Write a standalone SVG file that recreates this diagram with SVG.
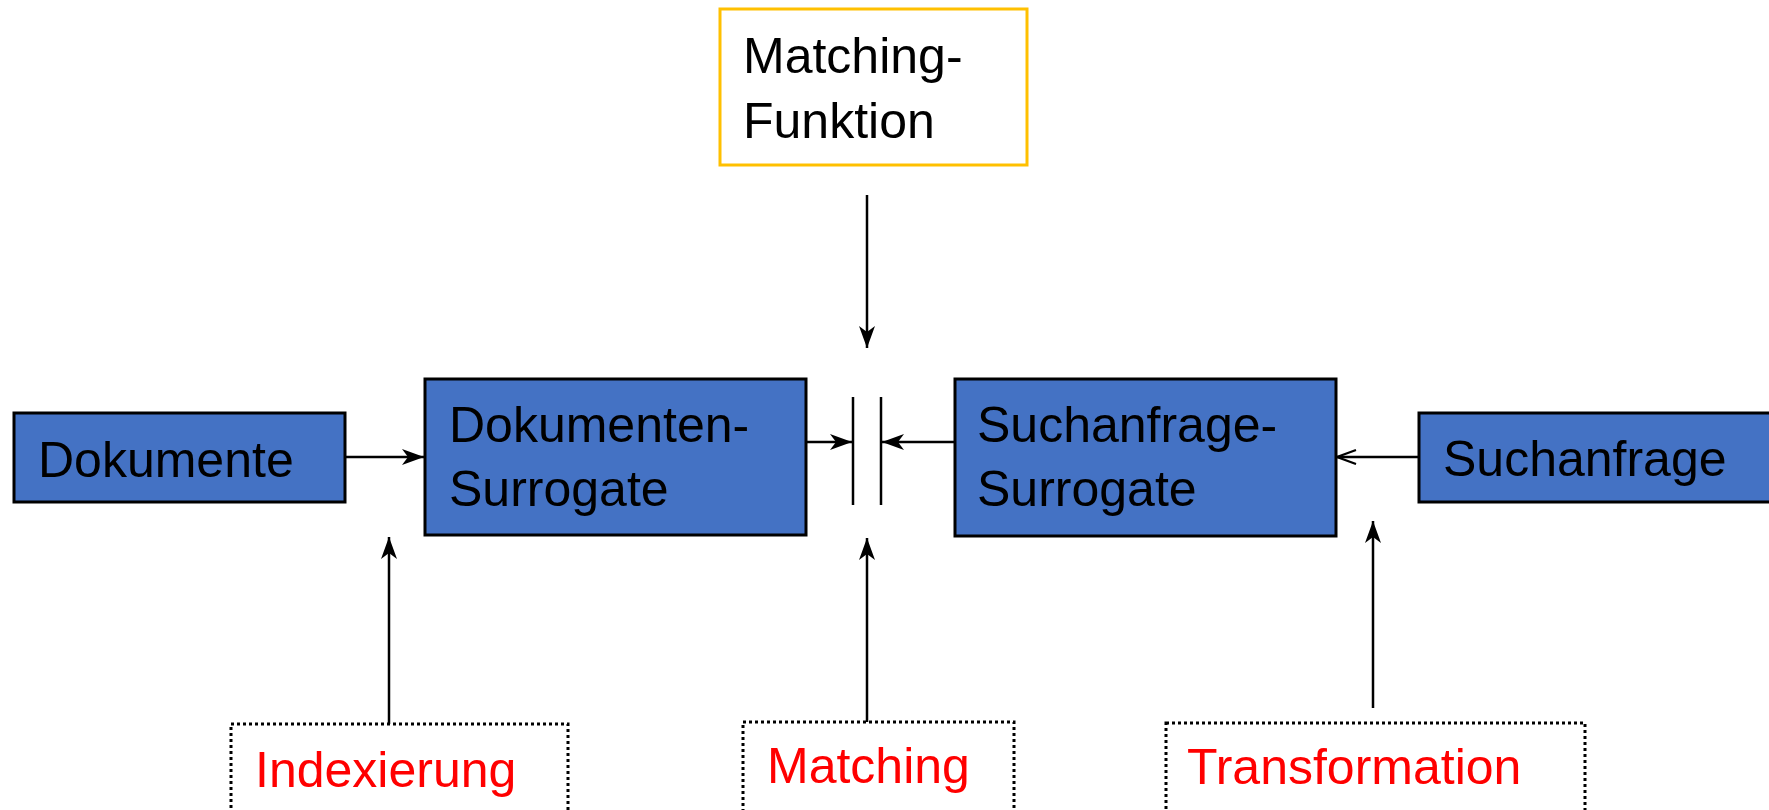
<svg xmlns="http://www.w3.org/2000/svg" width="1769" height="810" viewBox="0 0 1769 810">
<style>
.blue{fill:#4472C4;stroke:#000;stroke-width:3}
.yel{fill:#fff;stroke:#FFC000;stroke-width:3}
.dot{fill:#fff;stroke:#000;stroke-width:3;stroke-dasharray:3 3}
.t{font-family:"Liberation Sans",Arial,sans-serif;font-size:50px;fill:#000}
.r{font-family:"Liberation Sans",Arial,sans-serif;font-size:50px;fill:#FF0000}
.c{stroke:#000;stroke-width:2.5;fill:none}
</style>
<defs>
<marker id="st" markerUnits="userSpaceOnUse" markerWidth="24" markerHeight="20" refX="22" refY="8" orient="auto">
<path d="M0,0 L22,8 L0,16 L6,8 z" fill="#000"/>
</marker>
<marker id="op" markerUnits="userSpaceOnUse" markerWidth="24" markerHeight="20" refX="20" refY="8" orient="auto">
<path d="M1,1 L20,8 L1,15" fill="none" stroke="#000" stroke-width="2.2"/>
</marker>
</defs>
<g id="connectors">
<line class="c" x1="345" y1="457" x2="424" y2="457" marker-end="url(#st)"/>
<line class="c" x1="806" y1="442" x2="852" y2="442" marker-end="url(#st)"/>
<line class="c" x1="955" y1="442" x2="882" y2="442" marker-end="url(#st)"/>
<line class="c" x1="1419" y1="457" x2="1337" y2="457" marker-end="url(#op)"/>
<line class="c" x1="867" y1="195" x2="867" y2="348" marker-end="url(#st)"/>
<line class="c" x1="389" y1="724" x2="389" y2="537" marker-end="url(#st)"/>
<line class="c" x1="867" y1="722" x2="867" y2="538" marker-end="url(#st)"/>
<line class="c" x1="1373" y1="708" x2="1373" y2="521" marker-end="url(#st)"/>
<line class="c" x1="853" y1="397" x2="853" y2="505"/>
<line class="c" x1="881" y1="397" x2="881" y2="505"/>
</g>
<g id="dokumente">
<rect class="blue" x="14" y="413" width="331" height="89"/>
<text class="t" x="38" y="477">Dokumente</text>
</g>
<g id="dokumenten-surrogate">
<rect class="blue" x="425" y="379" width="381" height="156"/>
<text class="t" x="449" y="442">Dokumenten-</text>
<text class="t" x="449" y="506">Surrogate</text>
</g>
<g id="suchanfrage-surrogate">
<rect class="blue" x="955" y="379" width="381" height="157"/>
<text class="t" x="977" y="442">Suchanfrage-</text>
<text class="t" x="977" y="506">Surrogate</text>
</g>
<g id="suchanfrage">
<rect class="blue" x="1419" y="413" width="360" height="89"/>
<text class="t" x="1443" y="476">Suchanfrage</text>
</g>
<g id="matching-funktion">
<rect class="yel" x="720" y="9" width="307" height="156"/>
<text class="t" x="743" y="73">Matching-</text>
<text class="t" x="743" y="138">Funktion</text>
</g>
<g id="indexierung">
<rect class="dot" x="231" y="724" width="337" height="110"/>
<text class="r" x="255" y="787">Indexierung</text>
</g>
<g id="matching">
<rect class="dot" x="743" y="722" width="271" height="110"/>
<text class="r" x="767" y="783">Matching</text>
</g>
<g id="transformation">
<rect class="dot" x="1166" y="723" width="419" height="110"/>
<text class="r" x="1187" y="784">Transformation</text>
</g>
</svg>
